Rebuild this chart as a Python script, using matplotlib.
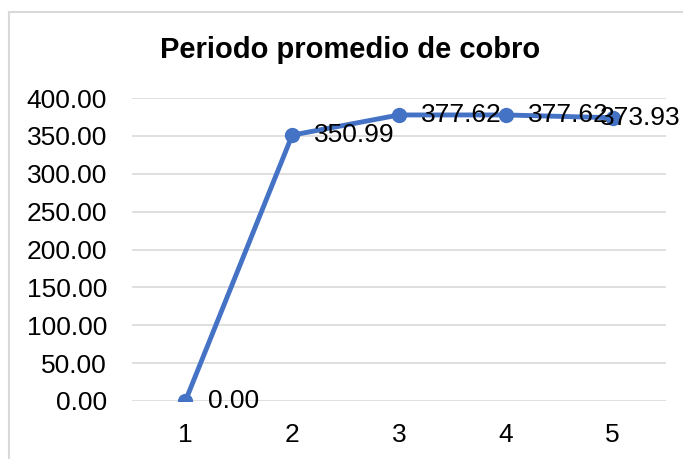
import matplotlib
matplotlib.use("Agg")
import matplotlib.pyplot as plt
from matplotlib.lines import Line2D

plt.rcParams['font.family'] = ['Liberation Sans', 'DejaVu Sans']

title = "Periodo promedio de cobro"
periods = [1, 2, 3, 4, 5]
values = [0.00, 350.99, 377.62, 377.62, 373.93]
yticks = [0, 50, 100, 150, 200, 250, 300, 350, 400]

W, H = 683, 459
fig = plt.figure(figsize=(W / 100, H / 100), dpi=100)
fig.patch.set_facecolor('white')

# chart border (top and left visible)
fig.add_artist(Line2D([9 / W, 9 / W], [0, 1 - 12 / H], transform=fig.transFigure,
                      color='#D9D9D9', lw=1.5))
fig.add_artist(Line2D([9 / W, 1], [1 - 12 / H, 1 - 12 / H], transform=fig.transFigure,
                      color='#D9D9D9', lw=1.5))

left, right = 132 / W, 666 / W
bottom, top = 1 - 401 / H, 1 - 98 / H
ax = fig.add_axes([left, bottom, right - left, top - bottom])
ax.set_xlim(0.5, 5.5)
ax.set_ylim(0, 400)
ax.set_yticks(yticks)
ax.set_yticklabels([f"{v:.2f}" for v in yticks])
ax.set_xticks(periods)
ax.set_xticklabels([str(p) for p in periods])
for s in ax.spines.values():
    s.set_visible(False)
ax.tick_params(axis='both', length=0, labelsize=19, colors='black')
ax.tick_params(axis='y', pad=18)
ax.tick_params(axis='x', pad=16)
ax.grid(axis='y', color='#D9D9D9', lw=1.2)
ax.set_axisbelow(True)

ax.plot(periods, values, color='#4472C4', lw=3.5, marker='o', markersize=10,
        solid_capstyle='round', zorder=3)
n = len(periods)
for i, (x, v) in enumerate(zip(periods, values)):
    dx = 16 if i < n - 1 else -9
    ax.annotate(f"{v:.2f}", (x, v), xytext=(dx, 0), textcoords='offset points',
                ha='left', va='center', fontsize=19, color='black', zorder=4,
                annotation_clip=False)

fig.text(350 / W, 1 - 50 / H, title, ha='center', va='center', fontsize=21,
         fontweight='bold')

fig.savefig('out.png', dpi=100)
